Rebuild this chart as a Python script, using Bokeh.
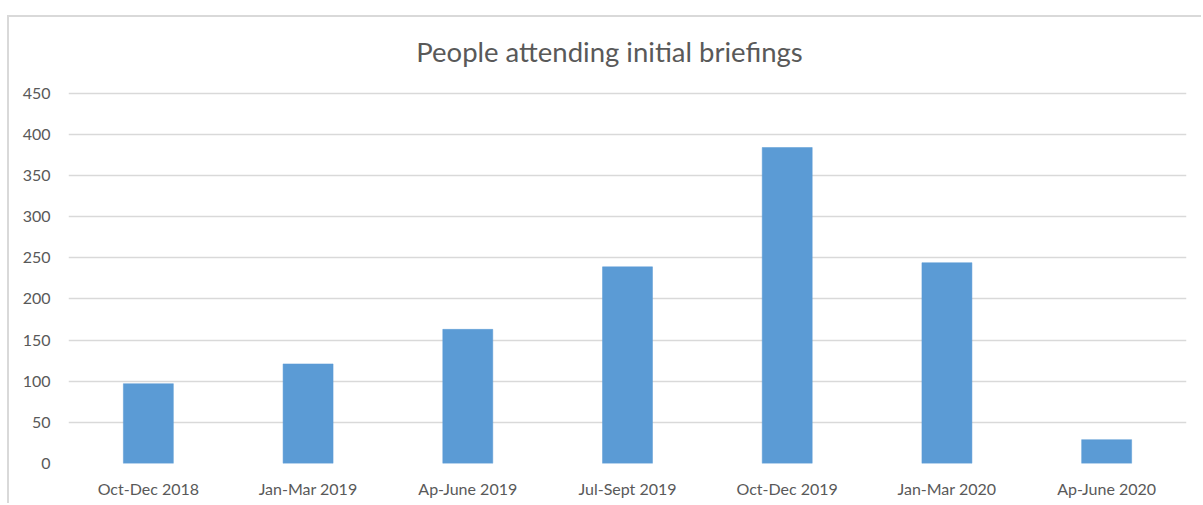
from bokeh.plotting import figure
from bokeh.models import FactorRange, Range1d, FixedTicker, Label
from bokeh.embed import file_html
from bokeh.resources import INLINE

categories = ["Oct-Dec 2018", "Jan-Mar 2019", "Ap-June 2019", "Jul-Sept 2019",
              "Oct-Dec 2019", "Jan-Mar 2020", "Ap-June 2020"]
values = [97, 121, 163, 239, 384, 244, 29]
y_ticks = [0, 50, 100, 150, 200, 250, 300, 350, 400, 450]
title_text = "People attending initial briefings"

FONT = "Lato"
GRAY = "#595959"

# frame reaches the top of the chart area so the title can sit inside it
p = figure(width=1194, height=488, x_range=FactorRange(*categories),
           y_range=Range1d(0, 542), output_backend="svg", toolbar_location=None,
           min_border_left=59, min_border_right=17, min_border_top=0, min_border_bottom=42)
p.styles = {"margin-left": "7px", "margin-top": "15px",
            "border-left": "2px solid #d9d9d9", "border-top": "2px solid #d9d9d9"}

p.vbar(x=categories, top=values, width=0.313, fill_color="#5b9bd5",
       line_color="#5b9bd5", line_width=0.5)

title = Label(x=541, y=412, x_units="screen", y_units="screen", text=title_text,
              text_align="center", text_baseline="alphabetic", text_font=FONT,
              text_font_size="27.5px", text_color=GRAY)
p.add_layout(title)

p.outline_line_color = None
p.background_fill_color = "white"
p.border_fill_color = "white"

p.xgrid.grid_line_color = None
p.ygrid.grid_line_color = "#d9d9d9"
p.ygrid.grid_line_width = 1.5
p.yaxis.ticker = FixedTicker(ticks=y_ticks)

for ax in (p.xaxis, p.yaxis):
    ax.axis_line_color = None
    ax.major_tick_line_color = None
    ax.minor_tick_line_color = None
    ax.major_label_text_font = FONT
    ax.major_label_text_font_size = "16px"
    ax.major_label_text_color = GRAY
p.yaxis.major_label_standoff = 12
p.xaxis.major_label_standoff = 9

open("out.html", "w").write(file_html(p, INLINE))
